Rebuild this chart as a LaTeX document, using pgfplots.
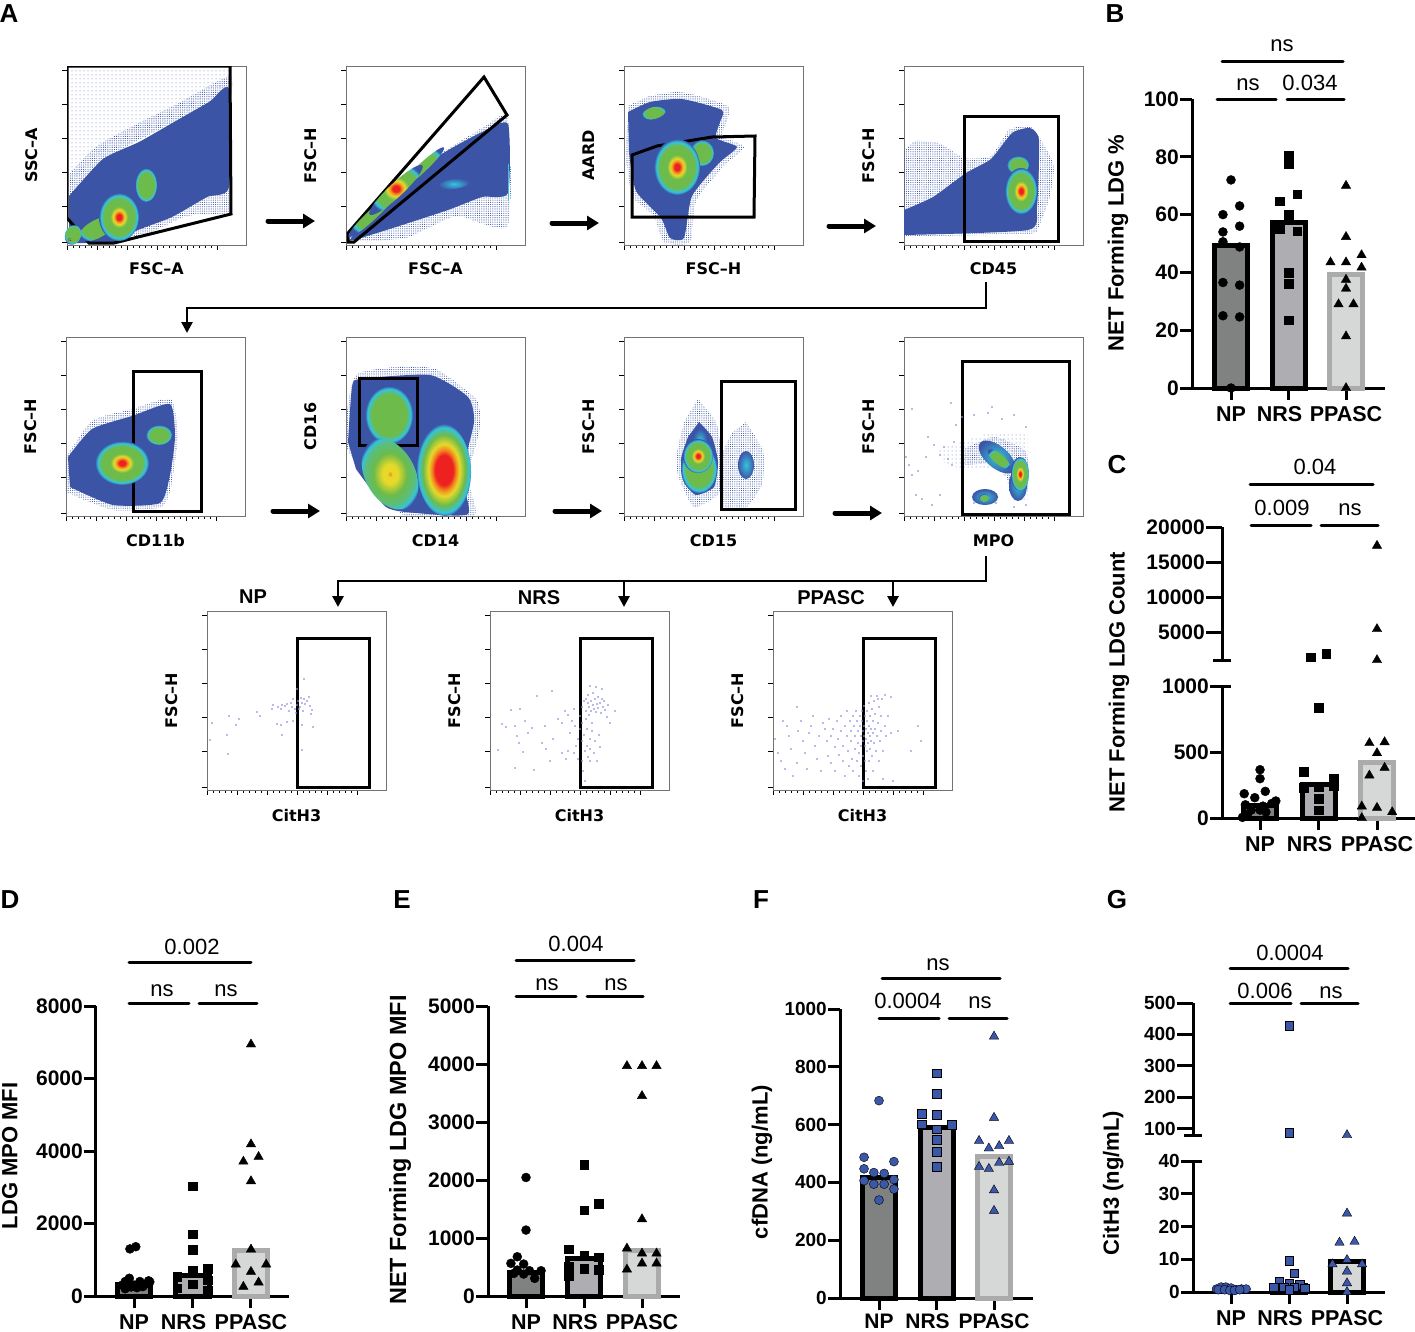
\documentclass[border=0pt]{standalone}
\usepackage{fontspec}
\setmainfont{Liberation Sans}
\newfontfamily\flowfont{DejaVu Sans}
\usepackage{pgfplots}
\pgfplotsset{compat=1.18}
\usetikzlibrary{patterns,arrows.meta}

\definecolor{flowblue}{HTML}{3B54A6}
\definecolor{hcyan}{HTML}{35C4DC}
\definecolor{hgreen}{HTML}{6DBB4A}
\definecolor{hyellow}{HTML}{E6D92A}
\definecolor{horange}{HTML}{F28A1E}
\definecolor{hred}{HTML}{EE2020}
\definecolor{dotblue}{HTML}{8C8CDC}
\definecolor{npfill}{HTML}{808181}
\definecolor{nrsfill}{HTML}{ADADB2}
\definecolor{ppfill}{HTML}{D6D8D8}
\definecolor{ppedge}{HTML}{ABABAB}
\definecolor{ptblue}{HTML}{3A57A8}

\newcommand\fs[1]{\fontsize{#1}{#1}\selectfont}

% stipple for the thin edges of the flow clouds
\pgfdeclarepatternformonly{stipdense}{\pgfpoint{-1pt}{-1pt}}{\pgfpoint{1.2pt}{1.2pt}}{\pgfpoint{2.2pt}{2.2pt}}{\pgfpathcircle{\pgfpointorigin}{.55pt}\pgfusepath{fill}}
\pgfdeclarepatternformonly{stipthin}{\pgfpoint{-1pt}{-1pt}}{\pgfpoint{3pt}{3pt}}{\pgfpoint{4pt}{4pt}}{\pgfpathcircle{\pgfpointorigin}{.5pt}\pgfusepath{fill}}

% density blobs: round shaded marks, stretched and turned through mark options
% 25bp is the rim of the mark
\pgfdeclareradialshading{sred}{\pgfpointorigin}{color(0bp)=(hred); color(3bp)=(hred); color(5bp)=(horange); color(7.5bp)=(hyellow); color(11bp)=(hgreen); color(19bp)=(hgreen); color(22.5bp)=(hcyan); color(25bp)=(flowblue); color(50bp)=(flowblue)}
\pgfdeclareradialshading{swide}{\pgfpointorigin}{color(0bp)=(hred); color(8bp)=(hred); color(11bp)=(horange); color(14bp)=(hyellow); color(19bp)=(hgreen); color(23bp)=(hcyan); color(25bp)=(flowblue); color(50bp)=(flowblue)}
\pgfdeclareradialshading{sgreen}{\pgfpointorigin}{color(0bp)=(hgreen); color(18bp)=(hgreen); color(22.5bp)=(hcyan); color(25bp)=(flowblue); color(50bp)=(flowblue)}
\pgfdeclareradialshading{syellow}{\pgfpointorigin}{color(0bp)=(horange); color(2bp)=(hyellow); color(6bp)=(hyellow); color(13bp)=(hgreen); color(20bp)=(hgreen!60!hcyan); color(23bp)=(hcyan); color(25bp)=(flowblue); color(50bp)=(flowblue)}
\pgfdeclareradialshading{scyan}{\pgfpointorigin}{color(0bp)=(hcyan); color(10bp)=(hcyan!60!flowblue); color(25bp)=(flowblue); color(50bp)=(flowblue)}
\pgfdeclareplotmark{mred}{\pgfpathcircle{\pgfpointorigin}{1pt}\pgfshadepath{sred}{0}\pgfusepath{discard}}
\pgfdeclareplotmark{mwide}{\pgfpathcircle{\pgfpointorigin}{1pt}\pgfshadepath{swide}{0}\pgfusepath{discard}}
\pgfdeclareplotmark{mgreen}{\pgfpathcircle{\pgfpointorigin}{1pt}\pgfshadepath{sgreen}{0}\pgfusepath{discard}}
\pgfdeclareplotmark{myellow}{\pgfpathcircle{\pgfpointorigin}{1pt}\pgfshadepath{syellow}{0}\pgfusepath{discard}}
\pgfdeclareplotmark{mcyan}{\pgfpathcircle{\pgfpointorigin}{1pt}\pgfshadepath{scyan}{0}\pgfusepath{discard}}

% #1 mark, #2 #3 centre, #4 #5 radii, #6 turn
\newcommand\blob[6]{\addplot[only marks,mark=#1,mark options={rotate=#6,xscale=#4,yscale=#5}] coordinates {(#2,#3)};}
\newcommand\solid[1]{\addplot[fill=flowblue,draw=none,smooth,tension=.35] coordinates {#1} --cycle;}
\newcommand\stipple[1]{\addplot[pattern=stipdense,pattern color=flowblue,draw=none,smooth,tension=.35] coordinates {#1} --cycle;}
\newcommand\sparse[1]{\addplot[pattern=stipthin,pattern color=flowblue!85,draw=none] coordinates {#1} --cycle;}
\newcommand\gate[1]{\addplot[black,line width=3pt,line join=miter] coordinates {#1} --cycle;}
\newcommand\specks[1]{\addplot[color=dotblue,only marks,mark=*,mark size=.6pt,mark options={draw=none,fill=dotblue}] coordinates {#1};}

% bar and dots for the summary charts
% a bar's outline is centred on its top, so the heights are half a stroke under the outer edge
\newcommand\onebar[4]{\addplot[ybar,bar shift=0pt,bar width=33pt,line width=5pt,draw=#3,fill=#4] coordinates {(#1,#2)};}
\newcommand\circs[2]{\addplot[only marks,mark=*,mark size=4.5pt,mark options={draw=none,fill=#1}] coordinates {#2};}
\newcommand\squares[2]{\addplot[only marks,mark=square*,mark size=4.3pt,mark options={draw=none,fill=#1}] coordinates {#2};}
\newcommand\trigs[2]{\addplot[only marks,mark=triangle*,mark size=5.4pt,mark options={draw=none,fill=#1}] coordinates {#2};}

\pgfplotsset{
  flow/.style={
    scale only axis,width=179pt,height=179pt,anchor=south west,
    xmin=0,xmax=179,ymin=0,ymax=179,y dir=reverse,
    axis line style={draw=black!55,line width=.8pt},
    tick align=outside,xtick pos=left,ytick pos=left,
    xtick={0,30,60,90,120,150},ytick={4,38,72,106,140,176},
    minor x tick num=4,minor y tick num=4,
    major tick length=5pt,minor tick length=2.5pt,
    tick style={black,line width=.7pt},
    xticklabels={},yticklabels={},
    label style={font=\flowfont\bfseries\fs{16}},
    xlabel style={at={(axis description cs:.5,-.135)},anchor=center},
    ylabel style={at={(axis description cs:-.2,.5)},anchor=center},
  },
  bars/.style={
    scale only axis,anchor=south west,clip=false,
    axis x line=bottom,axis y line=left,
    axis line style={-,line width=3pt},
    tick align=outside,major tick length=12pt,
    tick style={black,line width=3pt},
    xtick={1,2,3},xticklabels={NP,{\kern-18pt NRS},PPASC},
    xticklabel style={font=\bfseries\fs{21.5},inner ysep=6pt},
    yticklabel style={font=\bfseries\fs{21},inner xsep=1pt,/pgf/number format/fixed,/pgf/number format/1000 sep={},/pgf/number format/assume math mode=true},
    scaled y ticks=false,
    label style={font=\bfseries\fs{22}},
  },
  upper/.style={
    scale only axis,anchor=south west,clip=false,
    axis x line=none,axis y line=left,
    axis line style={-,line width=3pt},
    tick align=outside,major tick length=16pt,
    tick style={black,line width=3pt},
    yticklabel style={font=\bfseries\fs{21},inner xsep=1pt,/pgf/number format/fixed,/pgf/number format/1000 sep={},/pgf/number format/assume math mode=true},
    scaled y ticks=false,
  },
}

\begin{document}
\begin{tikzpicture}
\path[use as bounding box] (0pt,0pt) rectangle (1415pt,-1331pt);

% --- A, first row
\begin{axis}[flow,at={(67pt,-245pt)},xlabel={FSC–A},ylabel={SSC–A}]
\sparse{(2,3)(162,3)(162,21)(107,54)(36,91)(2,127)}
\stipple{(2,108)(30,80)(70,58)(110,38)(162,10)(162,30)(107,56)(40,92)(2,132)}
\stipple{(162,118)(162,146)(120,150)(80,168)(50,178)(40,172)(100,145)}
\solid{(2,130)(36,93)(72,76)(107,56)(142,36)(162,23)(162,121)(140,131)(105,151)(71,164)(47,176)(2,177)}
\blob{mgreen}{30}{163}{20}{9}{28}
\blob{mred}{52}{151}{20}{24}{0}
\blob{mgreen}{79}{119}{11}{17}{0}
\blob{mgreen}{6}{169}{8}{10}{-20}
\blob{mred}{3}{174}{2}{2}{0}
\gate{(0,0)(163,0)(164,148)(47,177)(22,177)(0,152)}
\end{axis}

\begin{axis}[flow,at={(346pt,-245pt)},xlabel={FSC–A},ylabel={FSC–H}]
\stipple{(3,174)(15,150)(60,110)(136,62)(162,52)(162,160)(110,150)(60,172)(10,175)}
\solid{(3,175)(33,137)(91,91)(136,66)(162,58)(162,127)(136,131)(102,144)(50,161)(15,172)}
\addplot[hcyan,line width=1pt] coordinates {(162,98)(162,135)};
\blob{mcyan}{108}{118}{16}{5}{8}
\blob{mgreen}{76}{102}{30}{4.5}{43}
\blob{mgreen}{26}{149}{32}{5}{43}
\blob{mred}{50}{124}{36}{7}{43}
\gate{(2,167)(138,11)(161,49)(8,176)(2,176)}
\end{axis}

\begin{axis}[flow,at={(624pt,-245pt)},xlabel={FSC–H},ylabel={AARD}]
\stipple{(4,40)(26,30)(58,26)(104,40)(103,56)(98,70)(120,81)(100,100)(72,135)(66,176)(40,176)(30,150)(8,130)(2,90)}
\solid{(4,46)(26,36)(58,33)(98,44)(96,56)(92,72)(113,81)(95,97)(68,130)(60,172)(46,172)(37,152)(12,125)(5,87)}
\blob{mgreen}{78}{87}{12}{13}{0}
\blob{mgreen}{30}{47}{12}{6}{15}
\blob{mred}{53}{101}{23}{28}{0}
\gate{(8,89)(33,80)(88,71)(131,70)(130,151)(8,151)}
\end{axis}

\begin{axis}[flow,at={(904pt,-245pt)},xlabel={CD45},ylabel={FSC–H}]
\stipple{(0,85)(12,75)(37,78)(60,92)(87,90)(105,64)(126,60)(137,74)(150,100)(146,130)(135,160)(124,168)(0,170)}
\solid{(0,144)(29,131)(62,107)(87,93)(108,67)(126,62)(135,74)(133,141)(124,164)(0,169)}
\blob{mgreen}{114}{99}{11}{9}{0}
\blob{mred}{117}{125}{16}{23}{0}
\gate{(60,50)(154,50)(154,175)(60,175)}
\end{axis}

% --- A, second row
\begin{axis}[flow,at={(66pt,-516pt)},xlabel={CD11b},ylabel={FSC–H}]
\stipple{(0,120)(26,84)(66,72)(105,62)(112,100)(105,150)(95,170)(47,173)(0,155)}
\solid{(2,120)(26,92)(66,79)(104,67)(109,100)(104,138)(94,166)(47,168)(4,150)}
\blob{mgreen}{93}{98}{13}{10}{0}
\blob{mred}{56}{126}{27}{22}{0}
\gate{(67,34)(135,34)(135,174)(67,174)}
\end{axis}

\begin{axis}[flow,at={(346pt,-516pt)},xlabel={CD14},ylabel={CD16}]
\stipple{(0,80)(10,38)(50,30)(90,32)(130,62)(134,90)(122,140)(128,179)(60,179)(25,150)(0,110)}
\solid{(2,105)(6,50)(14,42)(84,38)(122,60)(128,85)(116,138)(122,177)(70,176)(40,170)(10,132)}
\blob{mgreen}{43}{78}{24}{29}{0}
\blob{myellow}{44}{137}{25}{38}{28}
\blob{mwide}{98}{133}{27}{46}{2}
\gate{(13,41)(71,41)(71,108)(13,108)}
\end{axis}

\begin{axis}[flow,at={(624pt,-516pt)},xlabel={CD15},ylabel={FSC–H}]
\stipple{(122,85)(139,114)(138,147)(122,171)(98,169)(96,124)(108,96)}
\stipple{(74,62)(92,85)(97,117)(95,156)(70,170)(55,141)(52,121)(60,85)}
\solid{(75,85)(88,100)(94,125)(90,150)(72,158)(60,145)(57,122)(64,100)}
\blob{mcyan}{122}{128}{8}{14}{0}
\blob{mcyan}{76}{103}{7}{11}{0}
\blob{mgreen}{75}{132}{18}{24}{0}
\blob{mred}{74}{119}{15}{17}{0}
\gate{(97,44)(171,44)(171,172)(97,172)}
\end{axis}

\begin{axis}[flow,at={(904pt,-516pt)},xlabel={MPO},ylabel={FSC–H}]
\sparse{(35,112)(88,95)(124,98)(124,165)(112,165)(95,130)(58,132)(38,125)}
\stipple{(58,113)(90,100)(122,115)(123,155)(112,160)(95,128)(60,128)}
\specks{(2,120)(5,128)(8,138)(14,134)(22,120)(12,158)(18,162)(28,168)(36,158)(24,100)(30,108)(36,118)(40,110)(44,122)(48,128)(50,105)(8,72)(47,66)(52,88)(58,80)(70,78)(84,76)(88,70)(98,82)(110,78)(122,90)(70,166)(92,166)(110,170)(122,168)}
\blob{mcyan}{81}{160}{13}{8}{0}
\blob{mgreen}{80}{161}{5}{4}{0}
\blob{mcyan}{93}{120}{22}{11}{-40}
\blob{mgreen}{95}{122}{14}{5}{-40}
\blob{mcyan}{114}{148}{9}{16}{0}
\blob{mred}{116}{137}{9}{17}{0}
\gate{(58,24)(165,24)(165,177)(58,177)}
\end{axis}

% --- A, third row
\begin{axis}[flow,at={(207pt,-790pt)},xlabel={CitH3},ylabel={FSC–H},xlabel style={at={(axis description cs:.5,-.14)}}]
\specks{(3,129)(5,112)(20,124)(21,143)(29,114)(22,105)(32,108)(50,101)(53,105)(65,98)(66,94)(71,96)(74,98)(75,94)(78,95)(80,93)(82,100)(84,92)(85,96)(86,88)(88,98)(89,102)(90,94)(91,90)(92,98)(93,96)(94,87)(95,92)(96,100)(97,88)(98,93)(100,90)(102,86)(103,95)(104,103)(105,99)(97,68)(90,78)(80,111)(70,113)(74,114)(75,124)(86,110)(95,114)(95,139)(106,116)}
\gate{(90,27)(162,27)(162,176)(90,176)}
\end{axis}

\begin{axis}[flow,at={(490pt,-790pt)},xlabel={CitH3},ylabel={FSC–H},xlabel style={at={(axis description cs:.5,-.14)}}]
\specks{(12,113)(16,116)(25,115)(27,125)(29,132)(21,99)(30,98)(35,110)(42,117)(38,122)(33,141)(8,139)(25,157)(44,159)(47,85)(62,80)(52,132)(56,138)(60,150)(55,115)(63,128)(68,108)(72,112)(75,100)(78,104)(80,122)(82,110)(84,98)(85,115)(78,140)(72,142)(76,148)(84,142)(86,135)(88,128)(88,148)(90,118)(90,105)(92,96)(92,112)(92,130)(92,150)(93,160)(94,90)(94,124)(95,140)(95,170)(96,88)(96,100)(96,108)(97,118)(97,135)(98,146)(98,92)(98,84)(99,96)(99,104)(100,128)(100,138)(100,150)(101,90)(101,100)(102,112)(102,120)(103,94)(103,82)(104,98)(104,142)(105,88)(105,130)(106,101)(107,93)(107,150)(108,86)(108,97)(109,124)(110,92)(110,136)(111,102)(112,88)(113,96)(114,90)(115,99)(117,106)(118,94)(120,112)(125,100)(106,76)(100,75)(112,78)}
\gate{(90,27)(162,27)(162,176)(90,176)}
\end{axis}

\begin{axis}[flow,at={(773pt,-790pt)},xlabel={CitH3},ylabel={FSC–H},xlabel style={at={(axis description cs:.5,-.14)}}]
\specks{(2,128)(5,142)(10,110)(14,115)(16,125)(8,150)(12,158)(18,138)(20,165)(24,152)(25,120)(28,110)(24,96)(30,130)(32,142)(34,158)(36,122)(38,115)(40,105)(42,135)(44,148)(46,125)(48,160)(50,112)(52,118)(54,130)(55,145)(56,108)(58,125)(58,152)(60,118)(62,136)(62,160)(64,110)(65,128)(66,144)(68,105)(68,120)(70,135)(70,150)(72,115)(72,165)(74,125)(74,100)(75,140)(76,155)(77,110)(78,120)(78,130)(79,148)(80,105)(80,160)(81,115)(82,125)(82,138)(83,100)(84,150)(84,110)(85,120)(85,132)(86,142)(86,165)(87,105)(87,115)(88,125)(88,135)(88,155)(89,100)(89,110)(90,120)(90,130)(90,145)(90,170)(91,95)(91,115)(91,125)(92,105)(92,135)(92,150)(93,118)(93,128)(93,160)(94,100)(94,110)(94,140)(95,122)(95,132)(95,168)(96,92)(96,115)(96,150)(97,105)(97,125)(97,138)(98,85)(98,118)(98,130)(99,98)(99,145)(100,110)(100,122)(100,160)(101,90)(101,132)(102,103)(102,118)(103,140)(104,85)(104,125)(105,112)(106,96)(106,150)(107,130)(108,105)(108,120)(109,88)(110,140)(112,115)(113,125)(115,105)(118,122)(105,88)(112,84)(118,86)(125,120)(145,115)(148,130)(138,140)(120,170)(110,168)}
\gate{(90,27)(162,27)(162,176)(90,176)}
\end{axis}

% --- B
\begin{axis}[bars,at={(1192pt,-388pt)},width=193pt,height=289pt,xmin=.322,xmax=3.678,ymin=0,ymax=100,ytick={0,20,40,60,80,100},
  ylabel={NET Forming LDG \%},ylabel style={at={(axis description cs:-.383,.502)},anchor=center}]
\onebar{1}{49.2}{black}{npfill}
\onebar{2}{57.2}{black}{nrsfill}
\onebar{3}{39.2}{ppedge}{ppfill}
\circs{black}{(1,72)(1.15,63)(.86,60)(1.15,56)(.86,54)(.86,50.6)(1.15,48.8)(.86,36.5)(1.15,35.6)(.86,25)(1.15,24.6)(1,0)}
\squares{black}{(2,80.6)(2,77.4)(2.15,67)(1.85,64.7)(2,60)(1.85,55)(2.15,54.3)(2,39.8)(2,36)(2,23.4)}
\trigs{black}{(3,70)(3,52.3)(3.27,46)(2.73,43.5)(3,43.5)(3.27,41.7)(3,37.5)(3,34.4)(2.87,29)(3.13,29)(3,17.9)(3,0)}
\end{axis}

% --- C
\begin{axis}[upper,at={(1222pt,-660pt)},width=193pt,height=133pt,xmin=.35,xmax=3.65,ymin=1000,ymax=20000,ytick={5000,10000,15000,20000}]
\squares{black}{(1.87,1430)(2.13,1860)}
\trigs{black}{(3,17330)(3,5430)(3,1000)}
\end{axis}
\begin{axis}[bars,at={(1222pt,-818pt)},width=193pt,height=132pt,xmin=.35,xmax=3.65,ymin=0,ymax=1000,ytick={0,500,1000},
  ylabel={NET Forming LDG Count},ylabel style={at={(axis description cs:-.534,1.03)},anchor=center}]
\onebar{1}{97}{black}{npfill}
\onebar{2}{253}{black}{nrsfill}
\onebar{3}{423}{ppedge}{ppfill}
\circs{black}{(1,366)(1,298)(.73,184)(1.09,202)(.91,154)(1.27,129)(1.2,110)(.75,100)(.85,60)(1.1,45)(.78,25)(1,60)(1.05,90)(.7,5)}
\squares{black}{(1.75,353)(2.26,298)(2.26,240)(2,836)(2,235)(2,146)(2,58)(1.75,230)}
\trigs{black}{(2.87,568)(3.13,575)(3,492)(3.13,381)(2.87,323)(2.74,88)(3,78)(3.26,45)(2.74,0)}
\end{axis}

% --- D
\begin{axis}[bars,at={(96pt,-1296pt)},width=193pt,height=290pt,xmin=.35,xmax=3.65,ymin=0,ymax=8000,ytick={0,2000,4000,6000,8000},
  ylabel={LDG MPO MFI},ylabel style={at={(axis description cs:-.446,.483)},anchor=center}]
\onebar{1}{326}{black}{npfill}
\onebar{2}{574}{black}{nrsfill}
\onebar{3}{1244}{ppedge}{ppfill}
\circs{black}{(.93,1300)(1.03,1360)(.85,400)(.92,490)(1,300)(1.1,400)(1.25,420)(.8,300)(1.15,260)(.95,250)(1.05,230)(.85,200)(1.2,330)(1.27,390)}
\squares{black}{(2,3030)(2,1710)(2,1270)(2,716)(2.26,762)(1.74,533)(2.26,441)(2,321)(1.74,211)(2.26,165)}
\trigs{black}{(3,6943)(3,4188)(3.13,3840)(2.87,3710)(3,3170)(3,1286)(2.74,872)(3.26,872)(3,670)(3.13,377)(2.87,257)}
\end{axis}

% --- E
\begin{axis}[bars,at={(488pt,-1296pt)},width=192pt,height=290pt,xmin=.345,xmax=3.655,ymin=0,ymax=5000,ytick={0,1000,2000,3000,4000,5000},
  ylabel={NET Forming LDG MPO MFI},ylabel style={at={(axis description cs:-.458,.503)},anchor=center,font=\bfseries\fs{23.4}}]
\onebar{1}{405}{black}{npfill}
\onebar{2}{646}{black}{nrsfill}
\onebar{3}{789}{ppedge}{ppfill}
\circs{black}{(1,2044)(1,1137)(.85,677)(.74,563)(.96,551)(.85,448)(1.06,436)(1.26,436)(.79,390)(.96,379)(1.15,304)}
\squares{black}{(2,2267)(2.25,1596)(2,1481)(1.74,809)(2,706)(2.25,666)(2,476)(2.25,459)(1.74,505)(1.74,344)}
\trigs{black}{(2.74,3967)(3,3967)(3.25,3967)(3,3450)(3,1326)(2.74,821)(3,735)(3.25,735)(3,563)(3.25,563)(2.74,459)}
\end{axis}

% --- F
\begin{axis}[bars,at={(840pt,-1298pt)},width=193pt,height=289pt,xmin=.322,xmax=3.678,ymin=0,ymax=1000,ytick={0,200,400,600,800,1000},
  yticklabel style={font=\bfseries\fs{19}},xticklabel style={font=\bfseries\fs{21},inner ysep=3.5pt},
  ylabel={cfDNA (ng/mL)},ylabel style={at={(axis description cs:-.404,.47)},anchor=center}]
\onebar{1}{416}{black}{npfill}
\onebar{2}{591}{black}{nrsfill}
\onebar{3}{491}{ppedge}{ppfill}
\circs{ptblue}{(1,683)(.74,487)(1.26,472)(.74,447)(.91,434)(1.09,431)(.74,406)(1.26,410)(.91,394)(1.09,394)(1.26,377)(1,339)}
\squares{ptblue}{(2,778)(2,706)(1.74,637)(2,634)(1.74,601)(2.26,599)(2,584)(2,547)(2,506)(2,454)}
\trigs{ptblue}{(3,905)(3,624)(2.74,544)(3.26,544)(2.91,518)(3.09,526)(3.26,472)(3.09,468)(2.74,454)(2.91,447)(3,373)(3,302)}
\end{axis}

% --- G
\begin{axis}[upper,at={(1193pt,-1135pt)},width=192pt,height=132pt,xmin=.345,xmax=3.655,ymin=80,ymax=500,ytick={100,200,300,400,500},
  yticklabel style={font=\bfseries\fs{19}}]
\squares{ptblue}{(2,428)(2,88)}
\trigs{ptblue}{(3,80)}
\end{axis}
\begin{axis}[bars,at={(1193pt,-1292pt)},width=192pt,height=131pt,xmin=.345,xmax=3.655,ymin=0,ymax=40,ytick={0,10,20,30,40},
  yticklabel style={font=\bfseries\fs{19}},
  ylabel={CitH3 (ng/mL)},ylabel style={at={(axis description cs:-.415,.832)},anchor=center}]
\onebar{2}{2}{black}{nrsfill}
\onebar{3}{9.2}{black}{ppfill}
\circs{ptblue}{(.75,.9)(.83,1.5)(.91,1.5)(1,1.2)(1.09,.7)(1.18,.9)(1.26,.9)(.78,.7)(.89,.7)(.98,.5)(1.06,.5)(1.15,.7)}
\squares{ptblue}{(2,9.5)(2.09,5.8)(1.83,3.2)(2,2.7)(1.74,1.5)(2.18,2.2)(1.91,1.5)(2.09,1.5)(2.27,1.2)(2,.7)}
\trigs{ptblue}{(3,24)(2.87,15.1)(3.13,15.4)(2.75,8.5)(3,9.8)(3.26,8.5)(3,6.3)(3,2.7)(3,0)}
\end{axis}

% --- panel letters, arrows, brackets
\begin{scope}[x=1pt,y=-1pt]
\foreach \t/\x/\y in {A/9/14,B/1115/14,C/1117/465,D/10/900,E/402/900,F/761/900,G/1117/900}
  \node[font=\bfseries\fs{26}] at (\x,\y) {\t};

\foreach \xa/\xb/\y in {268/315/221,552/599/223,829/876/226,273/320/511,555/602/511,835/882/513}
  \draw[line width=5pt,-{Triangle[length=12pt,width=14pt]},line cap=round] (\xa,\y) -- (\xb,\y);
\draw[line width=2.6pt,-{Triangle[length=11pt,width=11pt]}] (986,282) -- (986,308) -- (187,308) -- (187,333);
\draw[line width=2.6pt,-{Triangle[length=11pt,width=11pt]}] (986,556) -- (986,581) -- (338,581) -- (338,607);
\draw[line width=2.6pt,-{Triangle[length=11pt,width=11pt]}] (624,581) -- (624,607);
\draw[line width=2.6pt,-{Triangle[length=11pt,width=11pt]}] (893,581) -- (893,607);
\node[font=\bfseries\fs{20}] at (253,597) {NP};
\node[font=\bfseries\fs{20}] at (539,598) {NRS};
\node[font=\bfseries\fs{20}] at (831,598) {PPASC};

% break ticks on C and G
\draw[line width=3pt] (1213,660) -- (1231,660);
\draw[line width=3pt] (1222,686) -- (1231,686);
\draw[line width=3pt] (1184,1135) -- (1202,1135);
\draw[line width=3pt] (1193,1161) -- (1202,1161);

\foreach \xa/\xb/\y in {1217/1276/99,1287/1344/99,1222/1343/61,
    1250/1373/484,1251/1311/525,1321/1378/525,
    129/251/962,129/189/1003,199/257/1003,
    516/634/960,516/576/996,587/643/996,
    882/1000/978,879/939/1018,949/1007/1018,
    1230/1348/968,1230/1291/1003,1301/1358/1003}
  \draw[line width=3pt,line cap=round] (\xa,\y) -- (\xb,\y);
\foreach \t/\x/\y in {ns/1282/44,ns/1248/83,0.034/1310/83,
    0.04/1315/467,0.009/1282/508,ns/1350/508,
    0.002/192/947,ns/162/989,ns/226/989,
    0.004/576/944,ns/547/983,ns/616/983,
    ns/938/963,0.0004/908/1001,ns/980/1001,
    0.0004/1290/953,0.006/1265/991,ns/1331/991}
  \node[font=\fs{22},anchor=base] at (\x,{\y+7}) {\t};
\end{scope}
\end{tikzpicture}
\end{document}
